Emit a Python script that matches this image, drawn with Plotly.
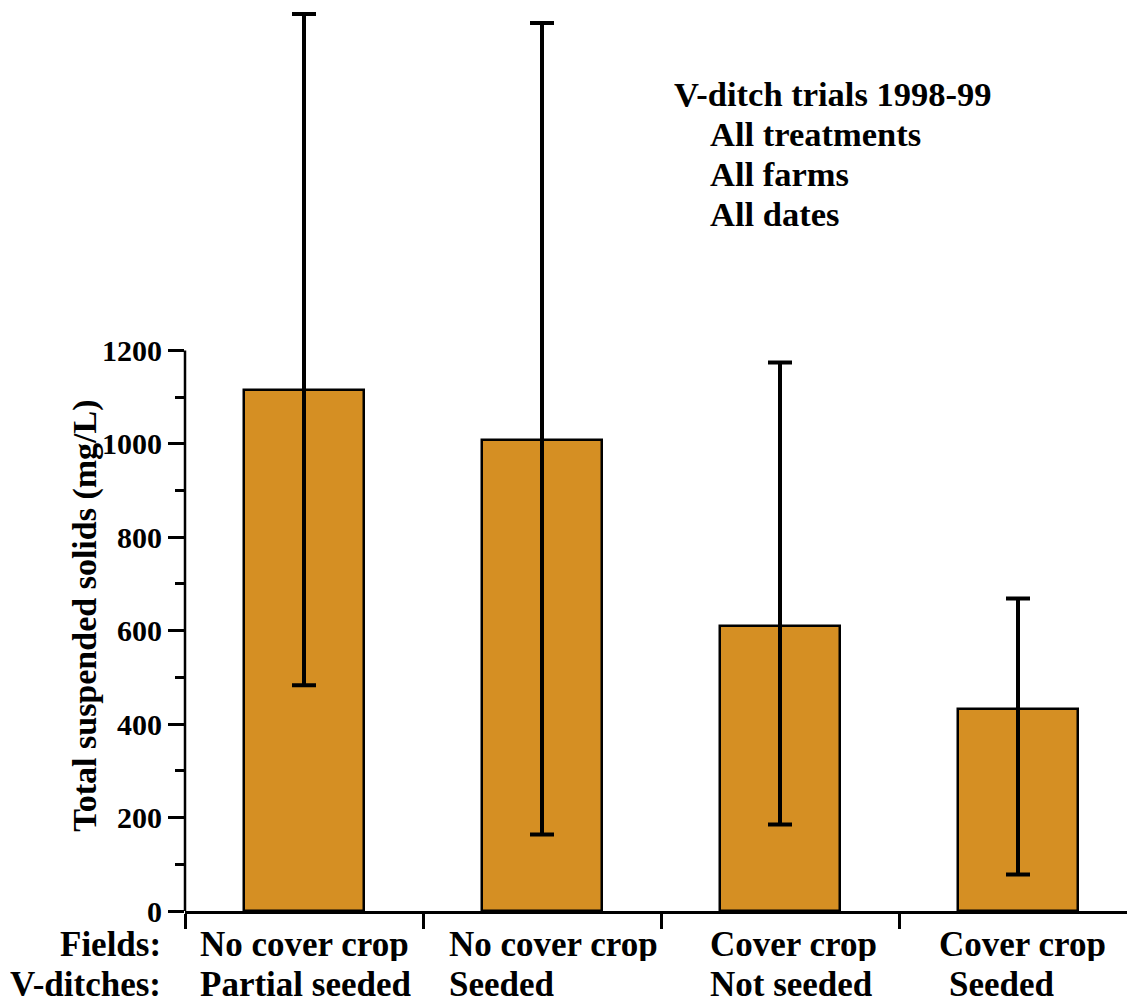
import plotly.graph_objects as go

# ---- data ----
categories = ["No cover crop / Partial seeded", "No cover crop / Seeded",
              "Cover crop / Not seeded", "Cover crop / Seeded"]
fields_labels = ["No cover crop", "No cover crop", "Cover crop", "Cover crop"]
ditch_labels = ["Partial seeded", "Seeded", "Not seeded", "Seeded"]
tss_mean = [1116, 1009, 611, 433]
tss_upper = [1920, 1901, 1174, 669]
tss_lower = [483, 164, 185, 78]
y_ticks = [0, 200, 400, 600, 800, 1000, 1200]
y_minor = [100, 300, 500, 700, 900, 1100]

err_plus = [u - m for u, m in zip(tss_upper, tss_mean)]
err_minus = [m - l for m, l in zip(tss_mean, tss_lower)]
xpos = list(range(len(categories)))

FONT = "Liberation Serif, Times New Roman, serif"
BAR_COLOR = "rgb(213,143,35)"

fig = go.Figure()
fig.add_trace(go.Bar(
    x=xpos, y=tss_mean, width=0.504,
    marker=dict(color=BAR_COLOR, line=dict(color="black", width=2.5)),
    error_y=dict(type="data", symmetric=False, array=err_plus, arrayminus=err_minus,
                 color="black", thickness=4, width=12),
    hoverinfo="skip", showlegend=False,
))

fig.update_layout(
    width=1127, height=1002,
    margin=dict(l=185, r=0, t=0, b=91),
    paper_bgcolor="white", plot_bgcolor="white",
    font=dict(family=FONT, color="black", size=30),
    bargap=0,
    xaxis=dict(range=[-0.5, 3.458], showgrid=False, zeroline=False,
               showline=True, linecolor="black", linewidth=2.5,
               tickvals=[-0.5, 0.5, 1.5, 2.5], ticktext=["", "", "", ""],
               ticks="outside", ticklen=15, tickwidth=2.5, tickcolor="black"),
    yaxis=dict(range=[0, 1950], showgrid=False, zeroline=False, showline=False,
               tickvals=y_ticks, ticktext=["<b>%d</b>" % v for v in y_ticks],
               ticks="outside", ticklen=16, tickwidth=2.5, tickcolor="black",
               tickfont=dict(family=FONT, size=30),
               minor=dict(tickvals=y_minor, ticks="outside", ticklen=9,
                          tickwidth=2.5, tickcolor="black")),
)

# y axis line only up to 1200
fig.add_shape(type="line", xref="paper", yref="y", x0=0, x1=0, y0=0, y1=y_ticks[-1],
              line=dict(color="black", width=2.5))

# axis title
fig.add_annotation(text="<b>Total suspended solids (mg/L)</b>", textangle=-90,
                   xref="paper", yref="paper", x=0, y=0.324, xshift=-100,
                   xanchor="center", yanchor="middle", showarrow=False,
                   font=dict(family=FONT, size=34))

# row headers
lab_font = dict(family=FONT, size=35)
BOX_H = 34
fig.add_annotation(text="<b>Fields:</b>", xref="paper", yref="paper", x=0, y=0,
                   xshift=-22, yshift=-33, xanchor="right", yanchor="middle",
                   height=BOX_H, valign="middle", showarrow=False, font=lab_font)
fig.add_annotation(text="<b>V-ditches:</b>", xref="paper", yref="paper", x=0, y=0,
                   xshift=-22, yshift=-73, xanchor="right", yanchor="middle",
                   height=BOX_H, valign="middle", showarrow=False, font=lab_font)

row1_shift = [-106, -95, -72, -81]
row2_shift = [-106, -95, -72, -71]
for i in range(len(categories)):
    fig.add_annotation(text="<b>%s</b>" % fields_labels[i], xref="x", yref="paper",
                       x=xpos[i], y=0, xshift=row1_shift[i], yshift=-33,
                       xanchor="left", yanchor="middle", height=BOX_H, valign="middle",
                       showarrow=False, font=lab_font)
    fig.add_annotation(text="<b>%s</b>" % ditch_labels[i], xref="x", yref="paper",
                       x=xpos[i], y=0, xshift=row2_shift[i], yshift=-73,
                       xanchor="left", yanchor="middle", height=BOX_H, valign="middle",
                       showarrow=False, font=lab_font)

# inset text
inset_font = dict(family=FONT, size=34.5)
inset_lines = ["V-ditch trials 1998-99", "All treatments", "All farms", "All dates"]
inset_x = [672, 708, 708, 708]
for k, line in enumerate(inset_lines):
    fig.add_annotation(text="<b>%s</b>" % line, xref="paper", yref="paper",
                       x=0, y=1, xshift=inset_x[k] - 185, yshift=-94 - 40 * k,
                       xanchor="left", yanchor="middle", showarrow=False, font=inset_font)

fig.write_html("out.html")
